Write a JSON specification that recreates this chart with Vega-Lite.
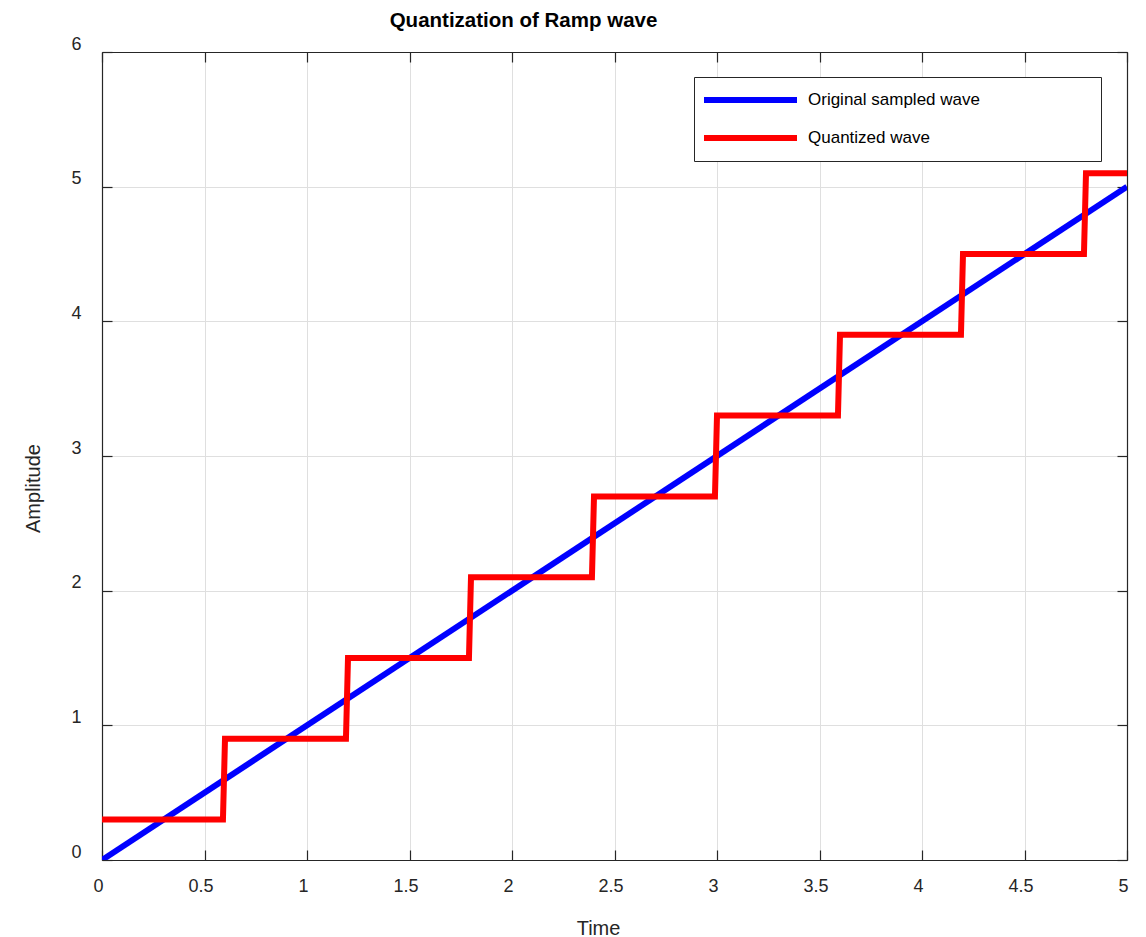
{
  "$schema": "https://vega.github.io/schema/vega-lite/v6.json",
  "width": 1025,
  "height": 808,
  "autosize": {"type": "none"},
  "padding": {"left": 102, "top": 52, "right": 19, "bottom": 77},
  "background": "white",
  "title": {"text": "Quantization of Ramp wave", "anchor": "middle", "dx": -91, "fontSize": 20.5, "fontWeight": "bold", "font": "Liberation Sans", "color": "#000000", "offset": 4},
  "config": {
    "font": "Liberation Sans",
    "view": {"stroke": null},
    "axis": {
      "domainColor": "#262626",
      "domainWidth": 1.2,
      "tickColor": "#262626",
      "tickWidth": 1.2,
      "tickSize": -10,
      "labelColor": "#262626",
      "labelFontSize": 18,
      "labelFont": "Liberation Sans",
      "labelFlush": false,
      "labelOverlap": false,
      "labelBound": false,
      "gridColor": "#dfdfdf",
      "gridWidth": 1,
      "titleFont": "Liberation Sans",
      "titleFontSize": 20,
      "titleFontWeight": "normal",
      "titleColor": "#262626"
    }
  },
  "data": {
    "values": [
      {"series": "Original sampled wave", "t": 0, "v": 0},
      {"series": "Original sampled wave", "t": 5, "v": 5},
      {"series": "Quantized wave", "t": 0, "v": 0.3},
      {"series": "Quantized wave", "t": 0.59, "v": 0.3},
      {"series": "Quantized wave", "t": 0.6, "v": 0.9},
      {"series": "Quantized wave", "t": 1.19, "v": 0.9},
      {"series": "Quantized wave", "t": 1.2, "v": 1.5},
      {"series": "Quantized wave", "t": 1.79, "v": 1.5},
      {"series": "Quantized wave", "t": 1.8, "v": 2.1},
      {"series": "Quantized wave", "t": 2.39, "v": 2.1},
      {"series": "Quantized wave", "t": 2.4, "v": 2.7},
      {"series": "Quantized wave", "t": 2.99, "v": 2.7},
      {"series": "Quantized wave", "t": 3.0, "v": 3.3},
      {"series": "Quantized wave", "t": 3.59, "v": 3.3},
      {"series": "Quantized wave", "t": 3.6, "v": 3.9},
      {"series": "Quantized wave", "t": 4.19, "v": 3.9},
      {"series": "Quantized wave", "t": 4.2, "v": 4.5},
      {"series": "Quantized wave", "t": 4.79, "v": 4.5},
      {"series": "Quantized wave", "t": 4.8, "v": 5.1},
      {"series": "Quantized wave", "t": 5.0, "v": 5.1}
    ]
  },
  "layer": [
    {
      "transform": [{"filter": "datum.series === 'Original sampled wave'"}],
      "mark": {"type": "line", "strokeWidth": 6, "strokeJoin": "miter", "clip": true},
      "encoding": {
        "x": {"field": "t", "type": "quantitative", "scale": {"domain": [0, 5], "nice": false, "zero": false},
          "axis": {"orient": "bottom", "values": [0, 0.5, 1, 1.5, 2, 2.5, 3, 3.5, 4, 4.5, 5], "format": "~g", "grid": true, "title": "Time", "labelOffset": -4, "labelPadding": 27, "titleX": 496, "titleY": 68, "titleAlign": "center", "titleBaseline": "middle"}},
        "y": {"field": "v", "type": "quantitative", "scale": {"domain": [0, 6], "nice": false, "zero": false},
          "axis": {"orient": "left", "values": [0, 1, 2, 3, 4, 5, 6], "format": "~g", "grid": true, "title": "Amplitude", "labelOffset": -8, "labelPadding": 31, "titleX": -69, "titleY": 436, "titleAlign": "center", "titleBaseline": "middle", "titleAngle": -90}},
        "color": {"field": "series", "type": "nominal",
          "scale": {"domain": ["Original sampled wave", "Quantized wave"], "range": ["#0000ff", "#ff0000"]},
          "legend": {"title": null, "orient": "none", "legendX": 592, "legendY": 25, "strokeColor": "#262626", "fillColor": "white", "padding": 7, "symbolType": "stroke", "symbolSize": 8649, "symbolStrokeWidth": 6, "clipHeight": 32, "rowPadding": 6, "labelFontSize": 17, "labelColor": "#000000", "labelOffset": 8, "labelLimit": 1000,
            "labelExpr": "datum.label === 'Original sampled wave' ? datum.label + '\u00a0\u00a0\u00a0\u00a0\u00a0\u00a0\u00a0\u00a0\u00a0\u00a0\u00a0\u00a0\u00a0\u00a0\u00a0\u00a0\u00a0\u00a0\u00a0\u00a0\u00a0\u00a0\u00a0\u00a0\u200b' : datum.label"}}
      }
    },
    {
      "transform": [{"filter": "datum.series === 'Quantized wave'"}],
      "mark": {"type": "line", "strokeWidth": 6, "strokeJoin": "miter", "clip": true},
      "encoding": {
        "x": {"field": "t", "type": "quantitative",
          "axis": {"orient": "top", "values": [0, 0.5, 1, 1.5, 2, 2.5, 3, 3.5, 4, 4.5, 5], "labels": false, "grid": false, "title": null}},
        "y": {"field": "v", "type": "quantitative",
          "axis": {"orient": "right", "values": [0, 1, 2, 3, 4, 5, 6], "labels": false, "grid": false, "title": null}},
        "color": {"field": "series", "type": "nominal"}
      }
    }
  ],
  "resolve": {"axis": {"x": "independent", "y": "independent"}}
}
